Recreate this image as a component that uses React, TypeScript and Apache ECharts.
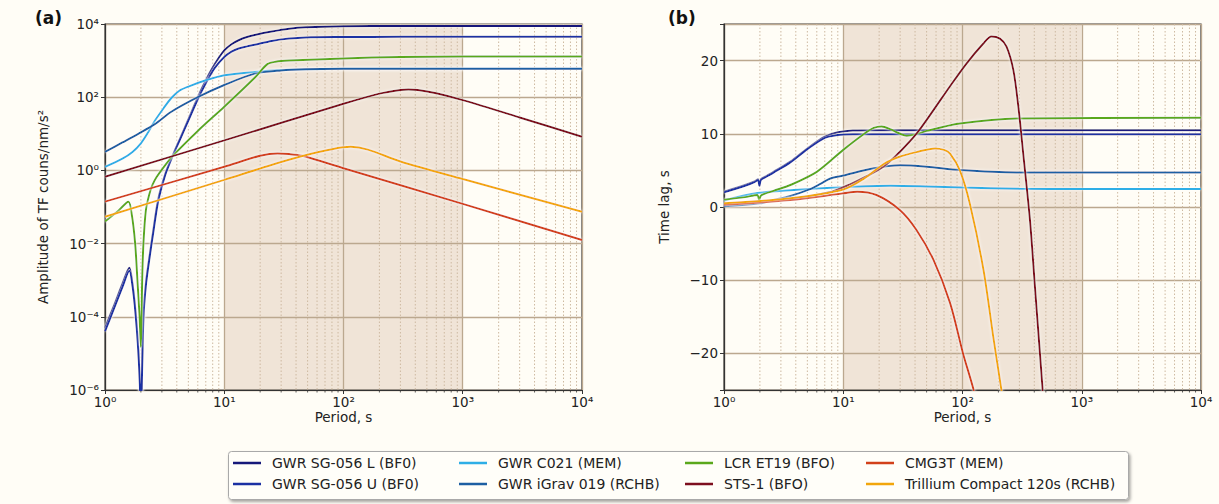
import React, { useEffect, useRef } from "react";
import * as echarts from "echarts";

const FONT = "'DejaVu Sans', 'Noto Sans', sans-serif";

const seriesNames = [
  "GWR SG-056 L (BF0)",
  "GWR SG-056 U (BF0)",
  "GWR C021 (MEM)",
  "GWR iGrav 019 (RCHB)",
  "LCR ET19 (BFO)",
  "STS-1 (BFO)",
  "CMG3T (MEM)",
  "Trillium Compact 120s (RCHB)",
];
const seriesColors = ["#16197a", "#1b30a3", "#2eaee6", "#1d5fa3", "#5aa81c", "#7d0f1f", "#d2401a", "#f2a60c"];

const minorPeriods = [
  2, 3, 4, 5, 6, 7, 8, 9,
  20, 30, 40, 50, 60, 70, 80, 90,
  200, 300, 400, 500, 600, 700, 800, 900,
  2000, 3000, 4000, 5000, 6000, 7000, 8000, 9000,
];
const shadeBand = [10, 1000];

// ---- (a) amplitude of TF, counts/nm/s^2 vs period (s)
const ampSGL = [
  [1, 5e-5], [1.2, 2.2e-4], [1.4, 8e-4], [1.6, 2.2e-3], [1.7, 8e-4], [1.8, 1.5e-4], [1.9, 1.5e-5], [1.97, 1e-6],
  [2.0, 1e-8], [2.03, 1e-6], [2.1, 1e-4], [2.2, 8e-4], [2.35, 4e-3], [2.55, 2.5e-2], [2.8, 0.17], [3.2, 0.8],
  [3.7, 2.6], [4.3, 8], [5, 25], [6, 100], [7, 290], [8.3, 790], [10, 1900], [11.5, 2800], [13.2, 3600],
  [15.5, 4400], [18, 5000], [25, 6200], [35, 7400], [48, 8100], [100, 8700], [300, 8800], [1000, 8800], [10000, 8800],
];
const ampSGU = [
  [1, 4e-5], [1.2, 1.8e-4], [1.4, 6.5e-4], [1.6, 1.8e-3], [1.7, 7e-4], [1.8, 1.3e-4], [1.9, 1.2e-5], [1.97, 8e-7],
  [2.0, 1e-8], [2.03, 8e-7], [2.1, 9e-5], [2.2, 7e-4], [2.35, 3.6e-3], [2.55, 2.2e-2], [2.8, 0.15], [3.2, 0.75],
  [3.7, 2.5], [4.3, 7.5], [5, 23], [6, 88], [7, 240], [8.3, 620], [10, 1250], [11.5, 1750], [13.2, 2150],
  [15.5, 2450], [18, 2700], [25, 3450], [35, 4000], [48, 4300], [100, 4400], [300, 4450], [1000, 4450], [10000, 4450],
];
const ampC021 = [
  [1, 1.25], [1.4, 2.1], [1.7, 3.2], [2, 5.5], [2.3, 11], [2.6, 22], [3.1, 50], [3.6, 95], [4.2, 150], [5, 195],
  [7, 290], [10, 400], [18, 490], [30, 550], [50, 580], [100, 600], [1000, 600], [10000, 600],
];
const ampIGrav = [
  [1, 3.2], [1.4, 5.8], [1.9, 10], [2.6, 18], [3.6, 40], [6, 100], [10, 215], [18, 440], [30, 540], [48, 580],
  [100, 595], [1000, 600], [10000, 600],
];
const ampET19 = [
  [1, 0.04], [1.3, 0.08], [1.57, 0.14], [1.68, 0.06], [1.79, 0.01], [1.87, 1e-3], [1.95, 1e-4], [2.0, 1.5e-5],
  [2.05, 1e-3], [2.1, 1e-2], [2.2, 0.08], [2.35, 0.22], [2.5, 0.4], [2.7, 0.65], [3.2, 1.4], [3.7, 2.5], [6, 12],
  [10, 55], [18, 340], [23, 800], [27, 930], [35, 1000], [100, 1150], [300, 1260], [1000, 1290], [10000, 1300],
];
const ampSTS1 = [
  [1, 0.67], [10, 6.6], [100, 66], [200, 125], [300, 158], [350, 163], [420, 158], [600, 128], [1000, 83],
  [3000, 28], [10000, 8.3],
];
const ampCMG3T = [
  [1, 0.14], [10, 1.26], [20, 2.5], [28, 2.9], [35, 2.8], [45, 2.5], [100, 1.15], [1000, 0.122], [10000, 0.0125],
];
const ampTrillium = [
  [1, 0.054], [10, 0.55], [23, 1.3], [46, 2.5], [80, 3.8], [115, 4.4], [160, 3.7], [300, 1.75], [1000, 0.58],
  [10000, 0.074],
];

// ---- (b) time lag, s vs period (s)
const lagSGL = [
  [1, 2.1], [1.5, 3.0], [1.8, 3.5], [1.93, 3.8], [1.98, 3.0], [2.04, 3.8], [2.3, 4.3], [2.6, 4.8], [3.6, 6.2],
  [5, 8], [7, 9.6], [9, 10.2], [12, 10.45], [20, 10.5], [100, 10.5], [10000, 10.5],
];
const lagSGU = [
  [1, 2.0], [1.5, 2.9], [1.8, 3.4], [1.93, 3.7], [1.98, 2.9], [2.04, 3.7], [2.3, 4.2], [2.6, 4.7], [3.6, 6.1],
  [5, 7.9], [7, 9.45], [9, 9.85], [12, 9.95], [20, 9.95], [100, 9.95], [10000, 9.95],
];
const lagC021 = [
  [1, 0.9], [1.9, 1.9], [3.6, 2.3], [10, 2.7], [25, 2.9], [50, 2.8], [100, 2.65], [300, 2.5], [1000, 2.45],
  [10000, 2.45],
];
const lagIGrav = [
  [1, 0.1], [2, 0.5], [2.6, 0.95], [3.6, 1.5], [5.2, 2.4], [6.5, 3.2], [7.8, 3.9], [10, 4.3], [18, 5.3],
  [30, 5.7], [50, 5.5], [95, 5.05], [285, 4.73], [10000, 4.7],
];
const lagET19 = [
  [1, 1.0], [1.5, 1.35], [1.9, 1.65], [1.97, 0.95], [2.05, 1.6], [2.6, 2.2], [3.6, 3.0], [6, 4.8], [10, 7.8],
  [15, 10], [18, 10.8], [21, 11.0], [25, 10.6], [30, 10.0], [34, 9.75], [40, 9.9], [50, 10.4], [95, 11.4],
  [285, 12.1], [10000, 12.2],
];
const lagSTS1 = [
  [1, 0.4], [3.6, 1.1], [8, 2.1], [11.4, 3.1], [15.7, 4.2], [21.7, 5.5], [29.9, 7.55], [41.3, 10.05],
  [56.9, 13.2], [78.6, 16.5], [108, 19.6], [149, 22.3], [175, 23.3], [206, 23.0], [234, 21.9], [267, 18.7],
  [294, 13.7], [323, 7.3], [368, -1.8], [405, -10.9], [446, -20], [470, -25], [495, -30],
];
const lagCMG3T = [
  [1, 0.3], [3.6, 0.95], [10, 1.87], [13.1, 2.1], [19, 1.64], [29.8, -0.4], [41, -3.1], [57, -7.2],
  [78.6, -13.1], [101, -20], [124, -25], [135, -28],
];
const lagTrillium = [
  [1, 0.5], [3.6, 1.2], [10, 2.4], [15, 3.9], [22, 5.9], [30, 6.9], [41, 7.5], [58.8, 8.0], [70, 7.8],
  [78.6, 7.3], [95, 5.0], [115, 0.5], [150, -8.6], [181, -17.7], [212, -25], [230, -29],
];

const ampData = [ampSGL, ampSGU, ampC021, ampIGrav, ampET19, ampSTS1, ampCMG3T, ampTrillium];
const lagData = [lagSGL, lagSGU, lagC021, lagIGrav, lagET19, lagSTS1, lagCMG3T, lagTrillium];

const ampRange = [-6, 4]; // exponents of 10
const lagRange = [-25, 25];

const SUP: Record<string, string> = {
  "-": "\u207B", "0": "\u2070", "1": "\u00B9", "2": "\u00B2", "3": "\u00B3", "4": "\u2074",
  "5": "\u2075", "6": "\u2076", "7": "\u2077", "8": "\u2078", "9": "\u2079",
};
const powLabel = (e: number) => "10" + String(e).split("").map((c) => SUP[c] || c).join("");

const GRID_COLOR = "#bba88f";
const AXIS_COLOR = "#333333";

function xAxisFor(gridIndex: number) {
  return {
    type: "log",
    logBase: 10,
    gridIndex,
    min: 1,
    max: 10000,
    name: "Period, s",
    nameLocation: "middle",
    nameGap: 20,
    nameMoveOverlap: false,
    nameTextStyle: { fontFamily: FONT, fontSize: 13.5, color: "#222", lineHeight: 14 },
    axisLine: { show: true, onZero: false, lineStyle: { color: AXIS_COLOR, width: 1.2 } },
    axisTick: { show: true, inside: false, length: 4, lineStyle: { color: AXIS_COLOR, width: 1 } },
    axisLabel: {
      fontFamily: FONT,
      fontSize: 13.5,
      lineHeight: 14,
      color: "#222",
      margin: 5,
      formatter: (v: number) => powLabel(Math.round(Math.log10(v))),
    },
    splitLine: { show: true, lineStyle: { color: GRID_COLOR, width: 1.3 } },
    minorTick: { show: false },
    minorSplitLine: { show: false },
  };
}

function lineSeries(k: number, idx: number, data: number[][], tf: (v: number) => number) {
  const color = seriesColors[k];
  return {
    type: "line",
    name: seriesNames[k],
    xAxisIndex: idx,
    yAxisIndex: idx,
    data: data.map(([p, v]) => [p, tf(v)]),
    symbol: "none",
    showSymbol: false,
    smooth: 0.3,
    clip: true,
    z: 5 + k,
    silent: true,
    lineStyle: { color, width: 2, shadowColor: "rgba(255,255,255,0.95)", shadowBlur: 3 },
    itemStyle: { color },
    emphasis: { disabled: true },
  };
}

function shadeSeries(idx: number, yr: number[]) {
  return {
    type: "custom",
    xAxisIndex: idx,
    yAxisIndex: idx,
    z: -1,
    silent: true,
    clip: false,
    data: [[shadeBand[0], shadeBand[1], yr[0]]],
    encode: { x: [0, 1], y: 2 },
    renderItem: (_p: any, api: any) => {
      const a = api.coord([api.value(0), yr[1]]);
      const b = api.coord([api.value(1), yr[0]]);
      return {
        type: "rect",
        shape: { x: a[0], y: a[1], width: b[0] - a[0], height: b[1] - a[1] },
        style: { fill: "#f0e4d7" },
      };
    },
  };
}

function minorSeries(idx: number, yr: number[]) {
  return {
    type: "custom",
    xAxisIndex: idx,
    yAxisIndex: idx,
    z: 1,
    silent: true,
    clip: false,
    data: minorPeriods.map((p) => [p, yr[0]]),
    encode: { x: 0, y: 1 },
    renderItem: (_p: any, api: any) => {
      const x = api.value(0);
      const top = api.coord([x, yr[1]]);
      const bot = api.coord([x, yr[0]]);
      return {
        type: "group",
        children: [
          {
            type: "line",
            shape: { x1: top[0], y1: top[1], x2: bot[0], y2: bot[1] },
            style: { stroke: "#cdb9a0", lineWidth: 1, lineDash: [1.5, 2] },
          },
          {
            type: "line",
            shape: { x1: bot[0], y1: bot[1], x2: bot[0], y2: bot[1] + 2.5 },
            style: { stroke: AXIS_COLOR, lineWidth: 0.8 },
          },
        ],
      };
    },
  };
}

const legendCols = [[0, 1], [2, 3], [4, 5], [6, 7]];
const legendLeft = [233, 459, 685, 866];

export default function App() {
  const ref = useRef<HTMLDivElement>(null);
  useEffect(() => {
    if (!ref.current) return;
    const chart = echarts.init(ref.current, null, { renderer: "svg" });
    const log10 = (v: number) => Math.log10(v);
    const ident = (v: number) => v;
    const option: any = {
      animation: false,
      backgroundColor: "#fffdf6",
      grid: [
        { left: 105, top: 24, width: 477, height: 366, show: true, borderColor: AXIS_COLOR, borderWidth: 1.2, backgroundColor: "transparent", outerBoundsMode: "none", containLabel: false },
        { left: 724, top: 24, width: 477, height: 366, show: true, borderColor: AXIS_COLOR, borderWidth: 1.2, backgroundColor: "transparent", outerBoundsMode: "none", containLabel: false },
      ],
      xAxis: [xAxisFor(0), xAxisFor(1)],
      yAxis: [
        {
          type: "value",
          gridIndex: 0,
          min: ampRange[0],
          max: ampRange[1],
          interval: 2,
          name: "Amplitude of TF couns/nm/s\u00B2",
          nameLocation: "middle",
          nameGap: 55,
          nameMoveOverlap: false,
          nameTextStyle: { fontFamily: FONT, fontSize: 13.5, color: "#222" },
          axisLine: { show: true, onZero: false, lineStyle: { color: AXIS_COLOR, width: 1.2 } },
          axisTick: { show: true, inside: false, length: 4, lineStyle: { color: AXIS_COLOR, width: 1 } },
          axisLabel: { fontFamily: FONT, fontSize: 13.5, color: "#222", margin: 6, formatter: (v: number) => powLabel(Math.round(v)) },
          splitLine: { show: true, lineStyle: { color: GRID_COLOR, width: 1.3 } },
        },
        {
          type: "value",
          gridIndex: 1,
          min: lagRange[0],
          max: lagRange[1],
          name: "Time lag, s",
          nameLocation: "middle",
          nameGap: 53,
          nameMoveOverlap: false,
          nameTextStyle: { fontFamily: FONT, fontSize: 13.5, color: "#222" },
          axisLine: { show: true, onZero: false, lineStyle: { color: AXIS_COLOR, width: 1.2 } },
          axisTick: { show: true, inside: false, length: 4, lineStyle: { color: AXIS_COLOR, width: 1 } },
          axisLabel: {
            fontFamily: FONT,
            fontSize: 13.5,
            color: "#222",
            margin: 6,
            formatter: (v: number) => (Math.abs(v) >= 25 ? "" : v < 0 ? "\u2212" + Math.abs(v) : String(v)),
          },
          splitLine: { show: true, lineStyle: { color: GRID_COLOR, width: 1.3 } },
        },
      ],
      legend: legendCols.map((c, i) => ({
        data: c.map((k) => ({ name: seriesNames[k], icon: "rect" })),
        orient: "vertical",
        left: legendLeft[i],
        top: 456,
        itemWidth: 28,
        itemHeight: 2.5,
        itemGap: 7,
        padding: 0,
        selectedMode: false,
        z: 10,
        itemStyle: { borderWidth: 0 },
        textStyle: { fontFamily: FONT, fontSize: 14, color: "#222", padding: [0, 0, 0, 6] },
      })),
      graphic: [
        {
          type: "rect",
          left: 228,
          top: 451,
          z: 1,
          shape: { width: 900, height: 48, r: 3 },
          style: { fill: "#fffef9", stroke: "#a9a9a9", lineWidth: 1, shadowBlur: 3, shadowOffsetX: 1.5, shadowOffsetY: 2, shadowColor: "rgba(0,0,0,0.35)" },
        },
        { type: "text", left: 35, top: 9, z: 5, style: { text: "(a)", fontFamily: FONT, fontSize: 17, fontWeight: "bold", fill: "#111" } },
        { type: "text", left: 668, top: 9, z: 5, style: { text: "(b)", fontFamily: FONT, fontSize: 17, fontWeight: "bold", fill: "#111" } },
      ],
      series: [
        shadeSeries(0, ampRange),
        shadeSeries(1, lagRange),
        minorSeries(0, ampRange),
        minorSeries(1, lagRange),
        ...ampData.map((d, k) => lineSeries(k, 0, d, log10)),
        ...lagData.map((d, k) => lineSeries(k, 1, d, ident)),
      ],
    };
    chart.setOption(option);
    return () => chart.dispose();
  }, []);
  return (
    <div
      ref={ref}
      style={{ position: "fixed", left: 0, top: 0, width: 1219, height: 504, background: "#fffdf6" }}
    />
  );
}
